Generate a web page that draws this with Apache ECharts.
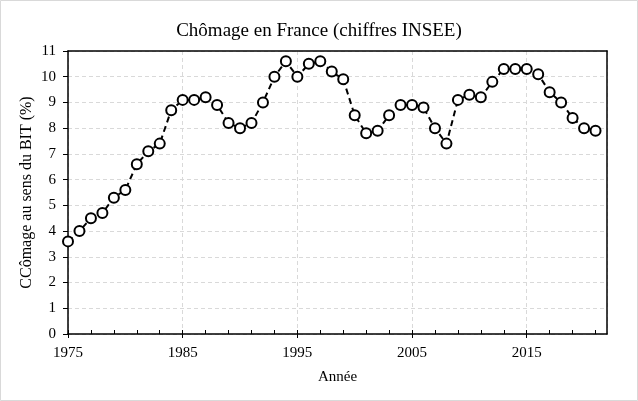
<!DOCTYPE html>
<html>
<head>
<meta charset="utf-8">
<script src="https://cdn.jsdelivr.net/npm/echarts@6/dist/echarts.min.js"></script>
<style>
html,body{margin:0;padding:0;background:#fff;}
#chart{width:638px;height:401px;}
</style>
</head>
<body>
<div id="chart"></div>
<script>
const years = [1975,1976,1977,1978,1979,1980,1981,1982,1983,1984,1985,1986,1987,1988,1989,1990,1991,1992,1993,1994,1995,1996,1997,1998,1999,2000,2001,2002,2003,2004,2005,2006,2007,2008,2009,2010,2011,2012,2013,2014,2015,2016,2017,2018,2019,2020,2021];
const unemployment = [3.6,4.0,4.5,4.7,5.3,5.6,6.6,7.1,7.4,8.7,9.1,9.1,9.2,8.9,8.2,8.0,8.2,9.0,10.0,10.6,10.0,10.5,10.6,10.2,9.9,8.5,7.8,7.9,8.5,8.9,8.9,8.8,8.0,7.4,9.1,9.3,9.2,9.8,10.3,10.3,10.3,10.1,9.4,9.0,8.4,8.0,7.9];
const xTickLabels = [1975,1985,1995,2005,2015];
const xMinorTicks = [1975,1977,1979,1981,1983,1985,1987,1989,1991,1993,1995,1997,1999,2001,2003,2005,2007,2009,2011,2013,2015,2017,2019,2021];
const yTicks = [0,1,2,3,4,5,6,7,8,9,10,11];

const FONT = 'Liberation Serif';
const chart = echarts.init(document.getElementById('chart'), null, {renderer:'canvas'});
chart.setOption({
  animation:false,
  backgroundColor:'#fff',
  title:{
    text:'Chômage en France (chiffres INSEE)',
    left:'center', top:17,
    textStyle:{fontFamily:FONT,fontSize:19,fontWeight:'normal',color:'#000'}
  },
  graphic:[{type:'rect',shape:{x:0.5,y:0.5,width:637,height:400},style:{fill:null,stroke:'#d9d9d9',lineWidth:1},silent:true,z:-1}],
  grid:{left:68,right:31,top:51,bottom:67},
  xAxis:[{
    type:'value',min:1975,max:2022,interval:2,position:'bottom',
    name:'Année',nameLocation:'middle',nameGap:36,nameMoveOverlap:false,
    nameTextStyle:{fontFamily:FONT,fontSize:15,color:'#000'},
    axisLine:{show:true,lineStyle:{color:'#000',width:1.5}},
    axisTick:{show:true,inside:true,length:4,customValues:xMinorTicks,lineStyle:{color:'#000',width:1}},
    axisLabel:{show:true,customValues:xTickLabels,formatter:v=>String(v),fontFamily:FONT,fontSize:15,color:'#000',margin:12},
    splitLine:{show:false}
  },{
    type:'value',min:1975,max:2022,interval:10,position:'top',
    axisLine:{show:true,onZero:false,lineStyle:{color:'#000',width:1.5}},
    axisTick:{show:false},axisLabel:{show:false},
    splitLine:{show:true,lineStyle:{color:'#d9d9d9',type:[4,3],width:1}}
  },{
    type:'value',min:1975,max:2022,position:'bottom',offset:0,
    axisLine:{show:false},
    axisTick:{show:true,length:4,customValues:xTickLabels,lineStyle:{color:'#000',width:1}},
    axisLabel:{show:false},splitLine:{show:false}
  }],
  yAxis:[{
    type:'value',min:0,max:11,interval:1,
    name:'CCômage au sens du BIT (%)',nameLocation:'middle',nameGap:33,nameMoveOverlap:false,
    nameTextStyle:{fontFamily:FONT,fontSize:16,color:'#000'},
    axisLine:{show:true,lineStyle:{color:'#000',width:1.5}},
    axisTick:{show:true,length:5,lineStyle:{color:'#000',width:1}},
    axisLabel:{fontFamily:FONT,fontSize:15,color:'#000',margin:12,customValues:yTicks,formatter:v=>String(v)},
    splitLine:{show:true,lineStyle:{color:'#d9d9d9',type:[4,3],width:1}}
  },{
    type:'value',min:0,max:11,position:'right',
    axisLine:{show:true,onZero:false,lineStyle:{color:'#000',width:1.5}},
    axisTick:{show:false},axisLabel:{show:false},splitLine:{show:false}
  }],
  series:[{
    type:'line',xAxisIndex:0,yAxisIndex:0,
    data:years.map((y,i)=>[y,unemployment[i]]),
    symbol:'circle',symbolSize:10,
    itemStyle:{color:'#fff',borderColor:'#000',borderWidth:2},
    lineStyle:{color:'#000',width:2,type:[6,4]},
    z:5
  }]
});
</script>
</body>
</html>
